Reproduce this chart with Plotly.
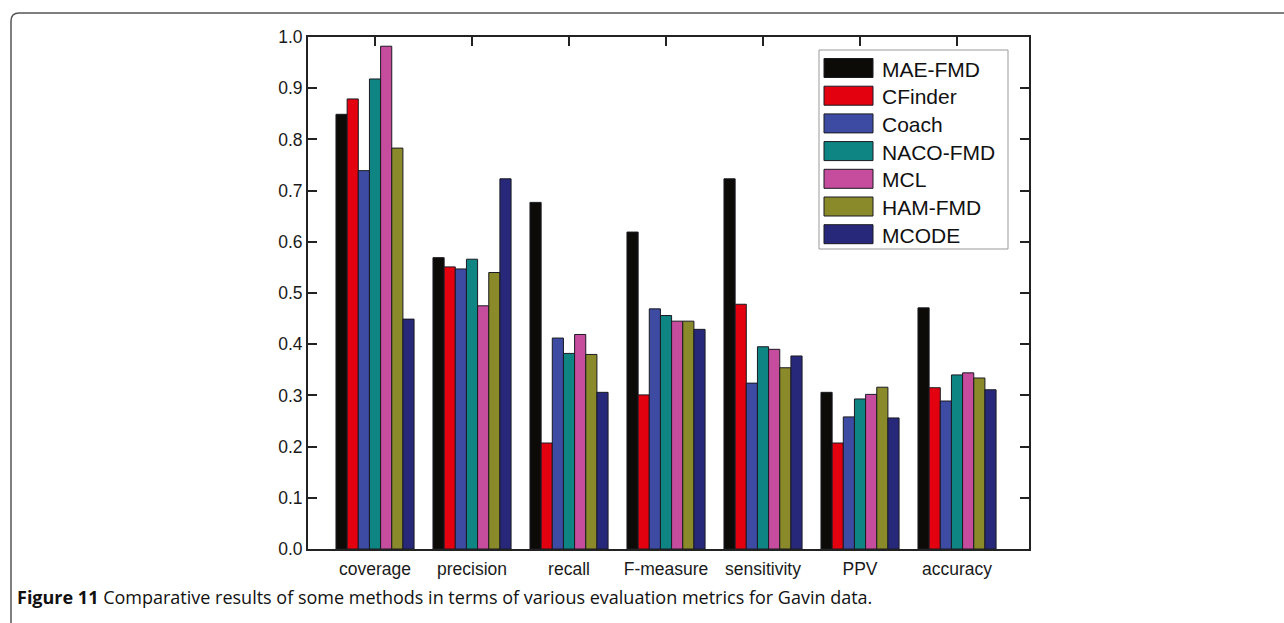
import plotly.graph_objects as go

# Evaluation metrics (category axis)
metrics = ["coverage", "precision", "recall", "F-measure", "sensitivity", "PPV", "accuracy"]

# Methods and their scores per metric
methods = ["MAE-FMD", "CFinder", "Coach", "NACO-FMD", "MCL", "HAM-FMD", "MCODE"]
mae_fmd = [0.849, 0.569, 0.677, 0.619, 0.723, 0.306, 0.471]
cfinder = [0.879, 0.551, 0.207, 0.301, 0.478, 0.207, 0.315]
coach = [0.739, 0.547, 0.412, 0.469, 0.324, 0.258, 0.289]
naco_fmd = [0.918, 0.566, 0.382, 0.456, 0.395, 0.293, 0.340]
mcl = [0.982, 0.475, 0.419, 0.445, 0.390, 0.302, 0.344]
ham_fmd = [0.783, 0.540, 0.380, 0.445, 0.354, 0.316, 0.334]
mcode = [0.449, 0.723, 0.306, 0.429, 0.377, 0.256, 0.311]

series = [mae_fmd, cfinder, coach, naco_fmd, mcl, ham_fmd, mcode]
colors = ["#0d0b08", "#e3000f", "#3d4ca2", "#0e8583", "#c64c9d", "#8b8a2a", "#272879"]

y_ticks = [round(0.1 * k, 1) for k in range(11)]
caption_bold = "Figure 11"
caption_text = " Comparative results of some methods in terms of various evaluation metrics for Gavin data."

W, H = 1284, 623
L, R, T, B = 308, 1029, 37, 549  # plot area in pixels

def px(xp):
    return (xp - L) / (R - L)

def py(yp):
    return (B - yp) / (B - T)

fig = go.Figure()
xs = list(range(len(metrics)))
for name, vals, col in zip(methods, series, colors):
    fig.add_trace(go.Bar(
        x=xs, y=vals, name=name, showlegend=False,
        marker=dict(color=col, line=dict(color="#1a1a22", width=1)),
    ))

# invisible trace so the top (mirrored) category axis gets drawn
fig.add_trace(go.Scatter(x=[0], y=[0], xaxis="x2", mode="markers",
                         marker=dict(opacity=0), showlegend=False, hoverinfo="skip"))

axis_font = dict(family="Liberation Sans, Arial", size=17.5, color="#1a1a1a")

fig.update_layout(
    width=W, height=H,
    margin=dict(l=L, r=W - R, t=T, b=H - B),
    paper_bgcolor="white", plot_bgcolor="white",
    barmode="group", bargap=0.195, bargroupgap=0,
    xaxis=dict(
        range=[-0.691, 6.742], tickvals=xs, ticktext=metrics,
        ticks="", showline=True, linecolor="#222", linewidth=2, mirror=True,
        showgrid=False, zeroline=False, tickfont=axis_font, ticklabelstandoff=3,
    ),
    xaxis2=dict(
        overlaying="x", side="top", matches="x", tickvals=xs,
        ticks="inside", ticklen=9, tickwidth=2, tickcolor="#222",
        showticklabels=False, showgrid=False, zeroline=False, showline=False,
    ),
    yaxis=dict(
        range=[0, 1.0], tickvals=y_ticks, tickformat=".1f",
        ticks="inside", ticklen=9, tickwidth=2, tickcolor="#222",
        showline=True, linecolor="#222", linewidth=2, mirror="ticks",
        showgrid=False, zeroline=False, tickfont=axis_font,
    ),
    font=dict(family="Liberation Sans, Arial", color="#1a1a1a"),
)

shapes = []
annotations = []

# outer rounded figure frame
fx0, fy0, r = 11, 13, 8
path = (f"M {px(fx0)},{py(H + 20)} L {px(fx0)},{py(fy0 + r)} "
        f"Q {px(fx0)},{py(fy0)} {px(fx0 + r)},{py(fy0)} L {px(W + 20)},{py(fy0)}")
shapes.append(dict(type="path", xref="paper", yref="paper", path=path,
                   line=dict(color="#555", width=1.5), layer="below"))

# legend box with large swatches
lx0, lx1, ly0, ly1 = 819, 1008, 50, 249
shapes.append(dict(type="rect", xref="paper", yref="paper",
                   x0=px(lx0), x1=px(lx1), y0=py(ly1), y1=py(ly0),
                   line=dict(color="#999", width=1), fillcolor="white", layer="above"))
row0, step = 68, 27.7
for k, (name, col) in enumerate(zip(methods, colors)):
    cy = row0 + k * step
    shapes.append(dict(type="rect", xref="paper", yref="paper",
                       x0=px(824), x1=px(873), y0=py(cy + 9.5), y1=py(cy - 9.5),
                       fillcolor=col, line=dict(color="#1a1a22", width=1), layer="above"))
    annotations.append(dict(xref="paper", yref="paper", x=px(880), y=py(cy + 1),
                            text=name, showarrow=False, xanchor="left", yanchor="middle",
                            font=dict(family="Liberation Sans, Arial", size=21, color="#111")))

# caption
annotations.append(dict(xref="paper", yref="paper", x=px(15), y=py(597),
                        text=f"<b>{caption_bold}</b>{caption_text}", showarrow=False,
                        xanchor="left", yanchor="middle",
                        font=dict(family="Open Sans", size=18, color="#111")))

fig.update_layout(shapes=shapes, annotations=annotations)
fig.write_html("out.html")
